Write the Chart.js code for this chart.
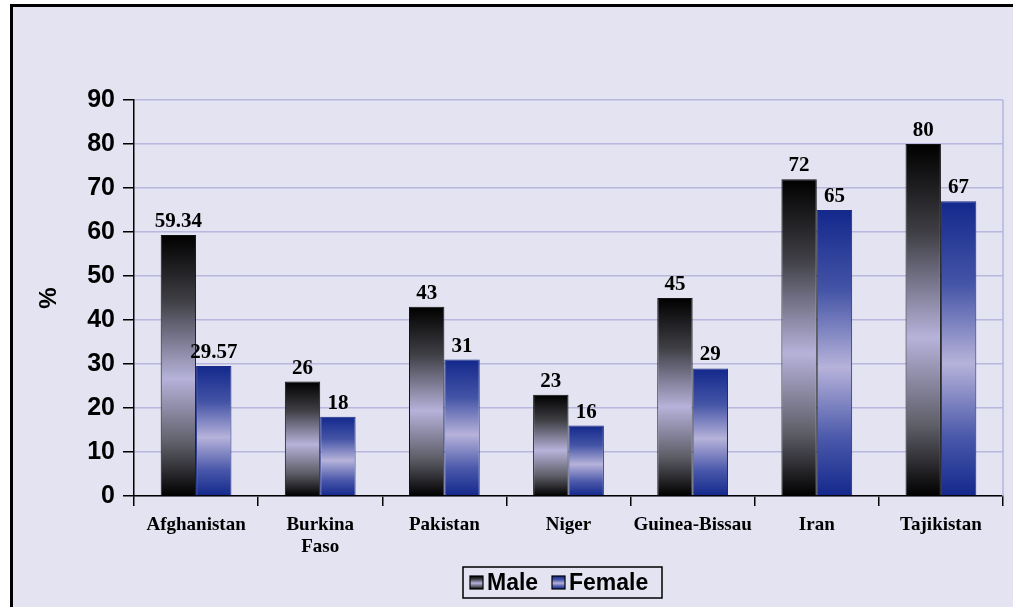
<!DOCTYPE html>
<html>
<head>
<meta charset="utf-8">
<script src="https://cdn.jsdelivr.net/npm/chart.js@4.4.1/dist/chart.umd.min.js"></script>
<style>
  html, body { margin: 0; padding: 0; background: #ffffff; }
  #stage { position: relative; width: 1013px; height: 607px; overflow: hidden; }
  #frame {
    position: absolute; left: 10px; top: 4px; width: 1010px; height: 610px;
    background: #e3e3f1; border-left: 3px solid #000; border-top: 3px solid #000;
  }
  #chart { position: absolute; left: 0; top: 0; }
</style>
</head>
<body>
<div id="stage">
  <div id="frame"></div>
  <canvas id="chart" width="1013" height="607"></canvas>
</div>
<script>
// Share (%) by country, male vs female
const categories = ['Afghanistan', ['Burkina', 'Faso'], 'Pakistan', 'Niger', 'Guinea-Bissau', 'Iran', 'Tajikistan'];
const maleValues = [59.34, 26, 43, 23, 45, 72, 80];
const femaleValues = [29.57, 18, 31, 16, 29, 65, 67];
const seriesNames = ['Male', 'Female'];
const yMin = 0;
const yMax = 90;
const yStep = 10;

const maleStops = [[0, '#000000'], [0.25, '#3e3e44'], [0.55, '#b6b2da'], [0.8, '#5e5e68'], [1, '#000000']];
const femaleStops = [[0, '#13288c'], [0.28, '#4454a6'], [0.55, '#b6b2da'], [0.8, '#4a58aa'], [1, '#13288c']];

function barGradient(stops) {
  return function (ctx) {
    const chart = ctx.chart;
    const y = chart.scales.y;
    if (!y || ctx.type !== 'data' || ctx.parsed == null) return stops[2][1];
    const top = y.getPixelForValue(ctx.parsed.y);
    const bottom = y.getPixelForValue(0);
    if (!isFinite(top) || !isFinite(bottom) || bottom - top < 1) return stops[0][1];
    const g = chart.ctx.createLinearGradient(0, top, 0, bottom);
    stops.forEach(s => g.addColorStop(s[0], s[1]));
    return g;
  };
}

// value labels above each bar
const valueLabels = {
  id: 'valueLabels',
  afterDatasetsDraw(chart) {
    const ctx = chart.ctx;
    ctx.save();
    ctx.font = 'bold 21px "Liberation Serif", "Times New Roman", serif';
    ctx.fillStyle = '#000';
    ctx.textAlign = 'center';
    ctx.textBaseline = 'bottom';
    chart.data.datasets.forEach((ds, i) => {
      chart.getDatasetMeta(i).data.forEach((bar, j) => {
        ctx.fillText(String(ds.data[j]), bar.x, bar.y - 3);
      });
    });
    ctx.restore();
  }
};

// right edge of the plot area
const plotEdge = {
  id: 'plotEdge',
  beforeDatasetsDraw(chart) {
    const a = chart.chartArea;
    const ctx = chart.ctx;
    ctx.save();
    ctx.strokeStyle = '#b4b4dc';
    ctx.lineWidth = 1.5;
    ctx.beginPath();
    ctx.moveTo(a.right, a.top);
    ctx.lineTo(a.right, a.bottom);
    ctx.stroke();
    ctx.restore();
  }
};

// boxed legend below the axis labels
const boxLegend = {
  id: 'boxLegend',
  afterDraw(chart) {
    const ctx = chart.ctx;
    const bx = 463, by = 567, bw = 199, bh = 31;
    ctx.save();
    ctx.fillStyle = '#e3e3f1';
    ctx.fillRect(bx, by, bw, bh);
    ctx.strokeStyle = '#000';
    ctx.lineWidth = 1.5;
    ctx.strokeRect(bx, by, bw, bh);
    ctx.font = 'bold 23px "Liberation Sans", Arial, sans-serif';
    ctx.textBaseline = 'middle';
    ctx.textAlign = 'left';
    const items = [
      { x: 470, stops: maleStops, label: chart.data.datasets[0].label },
      { x: 552, stops: femaleStops, label: chart.data.datasets[1].label }
    ];
    items.forEach(it => {
      const sy = 576, s = 13;
      const g = ctx.createLinearGradient(0, sy, 0, sy + s);
      it.stops.forEach(st => g.addColorStop(st[0], st[1]));
      ctx.fillStyle = g;
      ctx.fillRect(it.x, sy, s, s);
      ctx.strokeStyle = '#000';
      ctx.lineWidth = 1.2;
      ctx.strokeRect(it.x, sy, s, s);
      ctx.fillStyle = '#000';
      ctx.fillText(it.label, it.x + 17, sy + s / 2 + 1);
    });
    ctx.restore();
  }
};

new Chart(document.getElementById('chart'), {
  type: 'bar',
  data: {
    labels: categories,
    datasets: [
      {
        label: seriesNames[0],
        data: maleValues,
        backgroundColor: barGradient(maleStops),
        borderColor: '#111111',
        borderWidth: 1,
        borderSkipped: 'bottom'
      },
      {
        label: seriesNames[1],
        data: femaleValues,
        backgroundColor: barGradient(femaleStops),
        borderColor: '#1a2a86',
        borderWidth: 1,
        borderSkipped: 'bottom'
      }
    ]
  },
  options: {
    responsive: false,
    animation: false,
    layout: { padding: { left: 0, top: 100, right: 10, bottom: 0 } },
    datasets: { bar: { categoryPercentage: 0.57, barPercentage: 1.0 } },
    plugins: {
      legend: { display: false },
      tooltip: { enabled: false }
    },
    scales: {
      x: {
        offset: true,
        grid: {
          offset: true,
          drawOnChartArea: false,
          drawTicks: true,
          tickLength: 10,
          tickColor: '#000',
          lineWidth: 1.5
        },
        border: { color: '#000', width: 1.5 },
        ticks: {
          color: '#000',
          autoSkip: false,
          maxRotation: 0,
          minRotation: 0,
          padding: 8,
          font: { family: '"Liberation Serif", "Times New Roman", serif', size: 19, weight: 'bold', lineHeight: 1.15 }
        },
        afterFit(scale) { scale.height = 111; }
      },
      y: {
        min: yMin,
        max: yMax,
        grid: {
          color: '#b8b8de',
          lineWidth: 1.5,
          tickLength: 11,
          tickColor: '#000'
        },
        border: { color: '#000', width: 1.5 },
        ticks: {
          stepSize: yStep,
          color: '#000',
          padding: 8,
          font: { family: '"Liberation Sans", Arial, sans-serif', size: 25, weight: 'bold' }
        },
        title: {
          display: true,
          text: '%',
          color: '#000',
          padding: { top: 35, bottom: 0 },
          font: { family: '"Liberation Sans", Arial, sans-serif', size: 24, weight: 'bold' }
        },
        afterFit(scale) { scale.width = 134; }
      }
    }
  },
  plugins: [plotEdge, valueLabels, boxLegend]
});
</script>
</body>
</html>
